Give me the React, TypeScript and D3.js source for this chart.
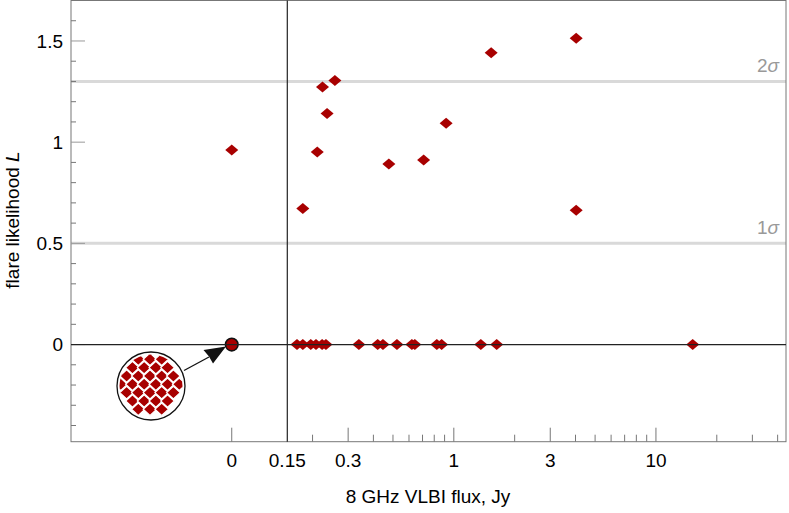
import React from 'react';
import * as d3 from 'd3';

// detected sources: 8 GHz VLBI flux (Jy) and flare likelihood L
const fluxes = [0.258, 0.224, 0.236, 0.211, 0.179, 0.477, 0.709, 0.916, 1.53, 4.03, 4.03,
  0.1675, 0.179, 0.196, 0.208, 0.223, 0.233, 0.339, 0.42, 0.446, 0.523, 0.62, 0.641, 0.824, 0.87, 1.36, 1.63, 15.2];
const likelihoods = [1.305, 1.272, 1.142, 0.951, 0.672, 0.892, 0.912, 1.093, 1.442, 1.514, 0.663,
  0, 0, 0, 0, 0, 0, 0, 0, 0, 0, 0, 0, 0, 0, 0, 0, 0];
// sources with no VLBI flux (plotted at "0")
const zeroFluxL = [0.961];

const yMajor = [0, 0.5, 1, 1.5];
const xMajorLog = [0.3, 1, 3, 10];
const xMinorLog = [0.2, 0.4, 0.5, 0.6, 0.7, 0.8, 0.9, 2, 4, 5, 6, 7, 8, 9, 20, 30, 40];
const sigmaLevels = [0.5, 1.3];
const sigmaLabels = ['1', '2'];

const W = 789;
const H = 513;
const left = 71;
const right = 786;
const top = 0.5;
const bottom = 441.7;
const RED = '#a80000';
const FONT = '"Liberation Sans", Arial, sans-serif';
const FS = 19;

const y = d3.scaleLinear().domain([-0.48, 1.7]).range([bottom, top]);
const xLog = d3.scaleLog().domain([0.15, 44]).range([287.3, right]);
const xLin = d3.scaleLinear().domain([-0.434, 0.15]).range([left, 287.3]);

const diamond = (cx: number, cy: number, w: number, h: number) =>
  `M${cx - w},${cy}L${cx},${cy - h}L${cx + w},${cy}L${cx},${cy + h}Z`;

export default function App() {
  const yMinor = d3.range(-4, 18).map(i => i / 10).filter(v => !yMajor.some(m => Math.abs(m - v) < 1e-6));

  // magnified view of the pile-up at (0, 0)
  const inset = { cx: 151, cy: 386, r: 34 };
  const insetCells: [number, number][] = [];
  for (let k = -1; k < 10; k++) {
    const cy = 359.3 + 8.33 * k;
    const off = k % 2 === 0 ? 0 : 5.85;
    for (let j = -4; j <= 4; j++) {
      const cx = 150 + off + 11.7 * j;
      if (Math.hypot(cx - inset.cx, cy - inset.cy) < inset.r - 2.5) insetCells.push([cx, cy]);
    }
  }

  const z0 = xLin(0);
  const y0 = y(0);

  return (
    <svg width={W} height={H} style={{ position: 'fixed', left: 0, top: 0, background: '#fff' }} fontFamily={FONT}>
      <defs>
        <clipPath id="insetClip">
          <circle cx={inset.cx} cy={inset.cy} r={inset.r - 2.5} />
        </clipPath>
      </defs>

      {sigmaLevels.map((s, i) => (
        <g key={s}>
          <line x1={left} x2={right} y1={y(s)} y2={y(s)} stroke="#d9d9d9" strokeWidth={3} />
          <text x={779} y={y(s) - 9} textAnchor="end" fontSize={FS} fill="#999">
            {sigmaLabels[i]}<tspan fontStyle="italic">σ</tspan>
          </text>
        </g>
      ))}

      {/* frame */}
      <rect x={left} y={top} width={right - left} height={bottom - top} fill="none" stroke="#777" strokeWidth={1} />

      {/* y ticks */}
      {yMinor.map(v => (
        <line key={'ym' + v} x1={left} x2={left + 5} y1={y(v)} y2={y(v)} stroke="#777" />
      ))}
      {yMajor.map(v => (
        <g key={'yM' + v}>
          <line x1={left} x2={left + 14} y1={y(v)} y2={y(v)} stroke="#999" />
          <text x={63} y={y(v)} dy="0.35em" textAnchor="end" fontSize={FS}>{v}</text>
        </g>
      ))}

      {/* x ticks */}
      {xMinorLog.map(v => (
        <line key={'xm' + v} x1={xLog(v)} x2={xLog(v)} y1={bottom} y2={bottom - 7} stroke="#777" />
      ))}
      {xMajorLog.map(v => (
        <g key={'xM' + v}>
          <line x1={xLog(v)} x2={xLog(v)} y1={bottom} y2={bottom - 14} stroke="#777" />
          <text x={xLog(v)} y={467} textAnchor="middle" fontSize={FS}>{v}</text>
        </g>
      ))}
      <line x1={z0} x2={z0} y1={bottom} y2={bottom - 14} stroke="#777" />
      <text x={z0} y={467} textAnchor="middle" fontSize={FS}>0</text>
      <text x={xLog(0.15)} y={467} textAnchor="middle" fontSize={FS}>0.15</text>

      {/* axis break at 0.15 */}
      <line x1={xLog(0.15)} x2={xLog(0.15)} y1={top} y2={bottom} stroke="#222" strokeWidth={1.2} />

      {/* points */}
      {fluxes.map((f, i) => (
        <path key={'p' + i} d={diamond(xLog(f), y(likelihoods[i]), 6.5, 5.5)} fill={RED} />
      ))}
      {zeroFluxL.map((l, i) => (
        <path key={'z' + i} d={diamond(z0, y(l), 6.5, 5.5)} fill={RED} />
      ))}
      <circle cx={z0} cy={y0} r={6.3} fill={RED} stroke="#111" strokeWidth={1.6} />

      {/* L = 0 line */}
      <line x1={left} x2={right} y1={y0} y2={y0} stroke="#222" strokeWidth={1.2} />

      {/* inset */}
      <circle cx={inset.cx} cy={inset.cy} r={inset.r} fill="#fff" stroke="#111" strokeWidth={1.3} />
      <g clipPath="url(#insetClip)">
        {insetCells.map(([cx, cy], i) => (
          <path key={'c' + i} d={diamond(cx, cy, 6.8, 6.2)} fill={RED} stroke="#fff" strokeWidth={1.2} />
        ))}
      </g>
      <line x1={184} y1={370.5} x2={209} y2={357} stroke="#111" strokeWidth={1.3} />
      <path d="M226,346.5 L203.5,350 L209,356.5 L213,363.5 Z" fill="#111" />

      {/* axis titles */}
      <text x={428} y={503} textAnchor="middle" fontSize={FS}>8 GHz VLBI flux, Jy</text>
      <text transform={`translate(19,${220}) rotate(-90)`} textAnchor="middle" fontSize={FS}>
        flare likelihood <tspan fontStyle="italic">L</tspan>
      </text>
    </svg>
  );
}
